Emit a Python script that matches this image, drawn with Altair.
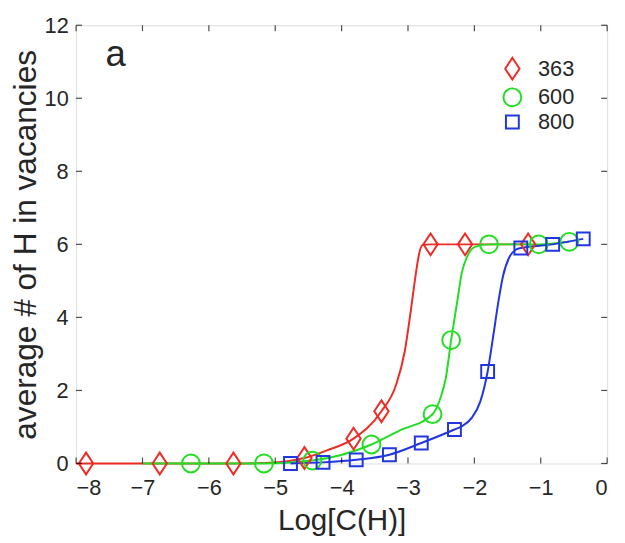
import altair as alt
import pandas as pd

# ---- data ----
series = ["363", "600", "800"]

red_mx = [-7.85, -6.74, -5.63, -4.56, -3.82, -3.40, -2.66, -2.14, -1.19]
red_my = [0.0, 0.0, 0.0, 0.15, 0.68, 1.43, 6.0, 6.0, 6.0]
red_cx = [-8.0, -7.85, -6.74, -5.63, -5.0, -4.56, -4.22, -3.82, -3.40, -3.18, -3.05,
          -2.955, -2.88, -2.83, -2.78, -2.66, -2.14, -1.19]
red_cy = [0.0, 0.0, 0.0, 0.0, 0.03, 0.15, 0.36, 0.68, 1.43, 2.15, 3.06,
          4.22, 5.22, 5.76, 5.98, 6.0, 6.0, 6.0]

green_mx = [-6.27, -5.17, -4.44, -3.55, -2.63, -2.35, -1.78, -1.03, -0.57]
green_my = [0.0, 0.0, 0.08, 0.52, 1.35, 3.38, 6.0, 6.0, 6.07]
green_cx = [-7.0, -6.27, -5.17, -4.44, -3.55, -3.13, -2.63, -2.51, -2.43, -2.35,
            -2.26, -2.19, -2.11, -1.99, -1.78, -1.03, -0.57]
green_cy = [0.0, 0.0, 0.0, 0.08, 0.52, 0.9, 1.35, 1.8, 2.34, 3.38,
            4.41, 5.22, 5.66, 5.93, 6.0, 6.0, 6.07]

blue_mx = [-4.77, -4.28, -3.78, -3.28, -2.80, -2.30, -1.80, -1.30, -0.82, -0.36]
blue_my = [0.0, 0.03, 0.10, 0.24, 0.56, 0.93, 2.52, 5.9, 6.0, 6.15]
blue_cx = [-4.77, -4.28, -3.78, -3.28, -2.80, -2.30, -2.19, -2.04, -1.91, -1.80,
           -1.715, -1.64, -1.57, -1.47, -1.37, -1.30, -0.82, -0.36]
blue_cy = [0.0, 0.03, 0.10, 0.24, 0.56, 0.93, 1.02, 1.25, 1.7, 2.52,
           3.5, 4.41, 5.12, 5.66, 5.86, 5.9, 6.0, 6.15]

x_ticks = [-8, -7, -6, -5, -4, -3, -2, -1, 0]
y_ticks = [0, 2, 4, 6, 8, 10, 12]

colors = ["#ee2c26", "#22de22", "#2236e0"]
diamond = "M-0.66,0L0,-1L0.66,0L0,1Z"
shapes = [diamond, "circle", "square"]
sizes = [484, 170, 130]

# ---- tables ----
curve_tables = [
    pd.DataFrame({"x": red_cx, "y": red_cy}),
    pd.DataFrame({"x": green_cx, "y": green_cy}),
    pd.DataFrame({"x": blue_cx, "y": blue_cy}),
]
marks = pd.concat([
    pd.DataFrame({"x": red_mx, "y": red_my, "s": series[0], "o": 0}),
    pd.DataFrame({"x": green_mx, "y": green_my, "s": series[1], "o": 1}),
    pd.DataFrame({"x": blue_mx, "y": blue_my, "s": series[2], "o": 2}),
])

W, H = 538, 444
FONT = "Liberation Sans"
TXT = "#262626"

xs = alt.Scale(domain=[-8, 0], nice=False, zero=False)
ys = alt.Scale(domain=[0, 12], nice=False)

xaxis = alt.Axis(values=x_ticks, format="d", ticks=False, domain=False, grid=False,
                 labelFontSize=22, labelPadding=14, labelColor=TXT, labelFont=FONT,
                 title="Log[C(H)]", titleFontSize=30, titleFontWeight="normal",
                 titleColor=TXT, titleFont=FONT, titlePadding=8)
yaxis = alt.Axis(values=y_ticks, format="d", ticks=False, domain=False, grid=False,
                 labelFontSize=22, labelPadding=8, labelColor=TXT, labelFont=FONT,
                 title="average # of H in vacancies", titleFontSize=32,
                 titleFontWeight="normal", titleColor=TXT, titleFont=FONT,
                 titlePadding=2)

line_layers = []
for i, df in enumerate(curve_tables):
    enc = dict(x=alt.X("x:Q", scale=xs), y=alt.Y("y:Q", scale=ys))
    if i == 0:
        enc = dict(x=alt.X("x:Q", scale=xs, axis=xaxis), y=alt.Y("y:Q", scale=ys, axis=yaxis))
    line_layers.append(
        alt.Chart(df).mark_line(interpolate="monotone", strokeWidth=2, color=colors[i]).encode(**enc)
    )

leg = alt.Legend(title=None, orient="none", legendX=430, legendY=32, labelFontSize=22,
                 labelFont=FONT, labelColor=TXT, symbolStrokeWidth=2, rowPadding=0,
                 labelOffset=14, padding=0, symbolFillColor="transparent")

pts = alt.Chart(marks).mark_point(filled=False, strokeWidth=2, opacity=1).encode(
    x=alt.X("x:Q", scale=xs),
    y=alt.Y("y:Q", scale=ys),
    color=alt.Color("s:N", scale=alt.Scale(domain=series, range=colors), legend=leg),
    shape=alt.Shape("s:N", scale=alt.Scale(domain=series, range=shapes), legend=leg),
    size=alt.Size("s:N", scale=alt.Scale(domain=series, range=sizes), legend=leg),
    order="o:Q",
)

xt = pd.DataFrame({"v": x_ticks})
yt = pd.DataFrame({"v": y_ticks})
tick_b = alt.Chart(xt).mark_tick(color="black", thickness=1.2, size=6).encode(
    x=alt.X("v:Q", scale=xs), y=alt.value(H - 3))
tick_t = alt.Chart(xt).mark_tick(color="black", thickness=1.2, size=6).encode(
    x=alt.X("v:Q", scale=xs), y=alt.value(3))
tick_l = alt.Chart(yt).mark_tick(color="black", thickness=1.2, size=6).encode(
    y=alt.Y("v:Q", scale=ys), x=alt.value(3))
tick_r = alt.Chart(yt).mark_tick(color="black", thickness=1.2, size=6).encode(
    y=alt.Y("v:Q", scale=ys), x=alt.value(W - 3))

label_a = alt.Chart(pd.DataFrame({"t": ["a"]})).mark_text(
    fontSize=37, font=FONT, color=TXT, align="center", baseline="alphabetic"
).encode(text="t:N", x=alt.value(40), y=alt.value(41))

chart = alt.layer(*line_layers, pts, tick_b, tick_t, tick_l, tick_r, label_a).properties(
    width=W, height=H,
    autosize=alt.AutoSizeParams(type="none"),
    padding={"left": 69, "top": 14, "right": 10, "bottom": 70},
).configure_view(stroke="black", strokeWidth=1.5).configure(background="white")

chart.save("out.html", embed_options={"renderer": "svg", "actions": False})
